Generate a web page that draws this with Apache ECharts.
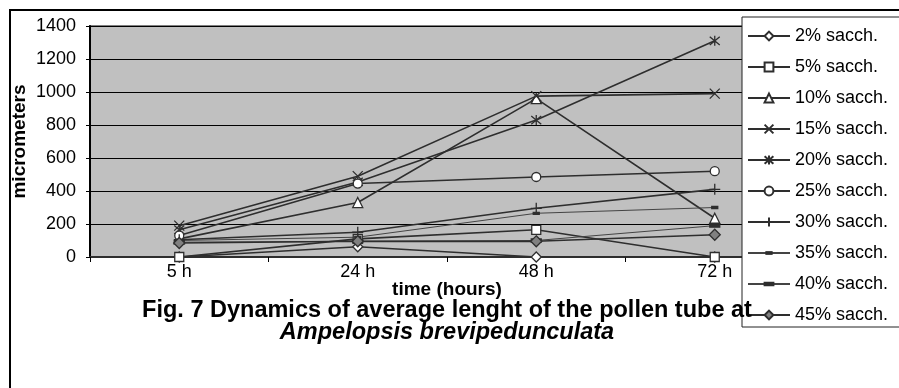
<!DOCTYPE html>
<html>
<head>
<meta charset="utf-8">
<script src="https://cdn.jsdelivr.net/npm/echarts@6/dist/echarts.min.js"></script>
<style>
  html, body { margin: 0; padding: 0; background: #ffffff; }
  #chart { width: 899px; height: 388px; }
</style>
</head>
<body>
<div id="chart"></div>
<script>
// Sampling times (category axis)
const hours = ['5 h', '24 h', '48 h', '72 h'];

// Average pollen tube length (micrometers) per saccharose concentration
const sacch2  = [0, 62, 0, 0];
const sacch5  = [0, 110, 165, 0];
const sacch10 = [110, 330, 960, 235];
const sacch15 = [190, 490, 975, 990];
const sacch20 = [165, 455, 830, 1310];
const sacch25 = [130, 445, 485, 520];
const sacch30 = [105, 150, 295, 410];
const sacch35 = [100, 120, 265, 300];
const sacch40 = [90, 95, 100, 190];
const sacch45 = [85, 95, 95, 135];

const seriesNames = ['2% sacch.', '5% sacch.', '10% sacch.', '15% sacch.', '20% sacch.',
                     '25% sacch.', '30% sacch.', '35% sacch.', '40% sacch.', '45% sacch.'];

const FONT = "'Liberation Sans', Arial, sans-serif";
const INK = '#2e2e2e';

// Marker shapes
const X_MARK = 'path://M0,0L10,10M10,0L0,10';
const STAR_MARK = 'path://M0,0L10,10M10,0L0,10M5,-1L5,11';
const PLUS_MARK = 'path://M5,0L5,10M0,5L10,5';
const SMALL_DASH = 'path://M0,0M10,10M2,4L8,4L8,6L2,6Z';
const WIDE_DASH = 'path://M0,0M10,10M0,3.5L10,3.5L10,6.5L0,6.5Z';

function lineSeries(name, data, symbol, size, fill, lineWidth, lineColor) {
  return {
    type: 'line',
    name: name,
    data: data,
    symbol: symbol,
    symbolSize: size,
    showSymbol: true,
    lineStyle: { color: lineColor || INK, width: lineWidth || 1.6 },
    itemStyle: { color: fill, borderColor: INK, borderWidth: 1.3 },
    emphasis: { disabled: true },
    silent: true,
    animation: false
  };
}

const series = [
  lineSeries(seriesNames[0], sacch2, 'diamond', 10, '#ffffff'),
  lineSeries(seriesNames[1], sacch5, 'rect', 9, '#ffffff'),
  lineSeries(seriesNames[2], sacch10, 'triangle', 10, '#ffffff'),
  lineSeries(seriesNames[3], sacch15, X_MARK, 10, INK),
  lineSeries(seriesNames[4], sacch20, STAR_MARK, 10, INK),
  lineSeries(seriesNames[5], sacch25, 'circle', 9, '#ffffff'),
  lineSeries(seriesNames[6], sacch30, PLUS_MARK, 11, INK),
  lineSeries(seriesNames[7], sacch35, SMALL_DASH, 10, INK, 1, '#444444'),
  lineSeries(seriesNames[8], sacch40, WIDE_DASH, 10, INK, 1, '#444444'),
  lineSeries(seriesNames[9], sacch45, 'diamond', 11, '#808080')
];

const chart = echarts.init(document.getElementById('chart'), null, { renderer: 'canvas' });

chart.setOption({
  animation: false,
  backgroundColor: '#ffffff',
  textStyle: { fontFamily: FONT },
  title: {
    text: 'Fig. 7 Dynamics of average lenght of the pollen tube at\n{i|Ampelopsis brevipedunculata}',
    left: 442,
    top: 295,
    textAlign: 'center',
    textStyle: {
      fontFamily: FONT, fontSize: 23.5, fontWeight: 'bold', color: '#000000', lineHeight: 22,
      rich: {
        i: { fontFamily: FONT, fontSize: 23.5, fontWeight: 'bold', fontStyle: 'italic', color: '#000000', lineHeight: 22 }
      }
    }
  },
  grid: {
    left: 90, top: 26, right: 95, bottom: 131,
    outerBoundsMode: 'none',
    show: true,
    backgroundColor: '#c0c0c0',
    borderColor: '#808080',
    borderWidth: 2
  },
  legend: {
    orient: 'vertical',
    left: 742,
    top: 17,
    itemWidth: 42,
    itemHeight: 11,
    itemGap: 13,
    padding: [10, 40, 3, 5],
    backgroundColor: '#ffffff',
    borderColor: '#222222',
    borderWidth: 1,
    selectedMode: false,
    textStyle: { fontFamily: FONT, fontSize: 18, color: '#000000' },
    data: seriesNames
  },
  xAxis: {
    type: 'category',
    data: hours,
    boundaryGap: true,
    axisLine: { show: true, lineStyle: { color: INK, width: 2 } },
    axisTick: { show: true, length: 5, lineStyle: { color: '#000000', width: 1 } },
    axisLabel: { margin: 6, fontSize: 18, color: '#000000', fontFamily: FONT },
    splitLine: { show: false },
    name: 'time (hours)',
    nameLocation: 'middle',
    nameMoveOverlap: false,
    nameGap: 23,
    nameTextStyle: { fontFamily: FONT, fontSize: 19, fontWeight: 'bold', color: '#000000' }
  },
  yAxis: {
    type: 'value',
    min: 0,
    max: 1400,
    interval: 200,
    axisLine: { show: true, lineStyle: { color: '#000000', width: 2 } },
    axisTick: { show: true, length: 4, lineStyle: { color: '#000000', width: 1 } },
    axisLabel: {
      margin: 14, fontSize: 18, color: '#000000', fontFamily: FONT,
      formatter: function (v) { return String(v); }
    },
    splitLine: { show: true, lineStyle: { color: '#000000', width: 1 } },
    name: 'micrometers',
    nameLocation: 'middle',
    nameMoveOverlap: false,
    nameRotate: 90,
    nameGap: 61,
    nameTextStyle: { fontFamily: FONT, fontSize: 19, fontWeight: 'bold', color: '#000000' }
  },
  graphic: [{
    type: 'rect',
    silent: true,
    shape: { x: 10, y: 10, width: 1000, height: 600 },
    style: { fill: null, stroke: '#000000', lineWidth: 2 }
  }],
  series: series
});
</script>
</body>
</html>
